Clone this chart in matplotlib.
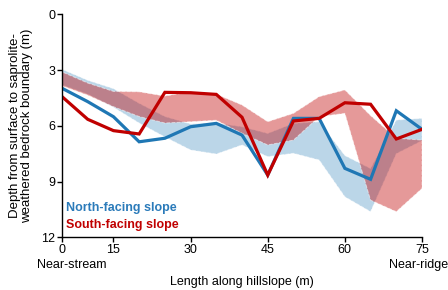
import numpy as np
import matplotlib
matplotlib.use("Agg")
import matplotlib.pyplot as plt

plt.rcParams['font.family'] = ['Liberation Sans', 'DejaVu Sans']

# distance along hillslope (m), one point every 5 m
dist = [5, 10, 15, 20, 25, 30, 35, 40, 45, 50, 55, 60, 65, 70, 75]

# depth to saprolite-weathered bedrock boundary (m)
north_depth = [3.98, 4.70, 5.51, 6.86, 6.67, 6.05, 5.87, 6.50, 8.65, 5.60, 5.60, 8.29, 8.88, 5.19, 6.19]
south_depth = [4.43, 5.65, 6.26, 6.44, 4.20, 4.22, 4.31, 5.54, 8.65, 5.74, 5.60, 4.76, 4.84, 6.71, 6.19]

# shaded ranges
north_top = [2.96, 3.55, 4.00, 4.79, 5.50, 5.90, 5.85, 6.05, 6.41, 5.87, 5.78, 7.60, 8.30, 5.69, 5.60]
north_bot = [3.80, 4.30, 5.00, 5.85, 6.60, 7.30, 7.52, 7.03, 7.66, 7.48, 7.84, 9.82, 10.62, 7.50, 6.80]
south_top = [3.10, 3.70, 4.15, 4.17, 4.40, 4.17, 4.30, 4.88, 5.78, 5.33, 4.43, 4.07, 5.45, 6.67, 6.77]
south_bot = [3.85, 4.35, 4.97, 5.50, 5.85, 5.78, 5.70, 6.40, 7.03, 6.77, 5.51, 5.33, 10.00, 10.62, 9.37]

xtick_pos = [5, 15, 30, 45, 60, 75]
xtick_lab = ['0', '15', '30', '45', '60', '75']
ytick_pos = [0, 3, 6, 9, 12]

blue = '#1f77b4'
red = '#c00000'

fig = plt.figure(figsize=(4.48, 2.90), dpi=100)
ax = fig.add_axes([0.1384, 0.1817, 0.8036, 0.769])

ax.fill_between(dist, north_top, north_bot, facecolor=(0.12, 0.47, 0.71, 0.3),
                edgecolor=(1, 1, 1, 0.5), linewidth=0.7, linestyle='--')
ax.fill_between(dist, south_top, south_bot, facecolor=(0.75, 0.0, 0.0, 0.4),
                edgecolor=(1, 1, 1, 0.5), linewidth=0.7, linestyle='--')

ax.plot(dist, north_depth, color=blue, lw=2.3, solid_joinstyle='miter')
ax.plot(dist, south_depth, color=red, lw=2.3, solid_joinstyle='miter')

ax.set_xlim(5, 75)
ax.set_ylim(12, 0)
ax.set_xticks(xtick_pos)
ax.set_xticklabels(xtick_lab)
ax.set_yticks(ytick_pos)

for s in ['top', 'right']:
    ax.spines[s].set_visible(False)
for s in ['left', 'bottom']:
    ax.spines[s].set_linewidth(1.0)
ax.tick_params(direction='out', length=3.5, width=1.0, labelsize=9, pad=1.5)

ax.set_xlabel('Length along hillslope (m)', fontsize=9, labelpad=14.5)
ax.set_ylabel('Depth from surface to saprolite-\nweathered bedrock boundary (m)', fontsize=9.5, labelpad=6,
              linespacing=1.0)

fig.text(37 / 448, 1 - 265 / 290, 'Near-stream', fontsize=9, ha='left', va='center')
fig.text(1.0, 1 - 265 / 290, 'Near-ridge', fontsize=9, ha='right', va='center')

ax.text(0.01, 0.13, 'North-facing slope', transform=ax.transAxes, color='#2b7bba',
        fontsize=9, fontweight='bold', ha='left', va='center')
ax.text(0.01, 0.055, 'South-facing slope', transform=ax.transAxes, color=red,
        fontsize=9, fontweight='bold', ha='left', va='center')

fig.savefig('out.png', dpi=100)
